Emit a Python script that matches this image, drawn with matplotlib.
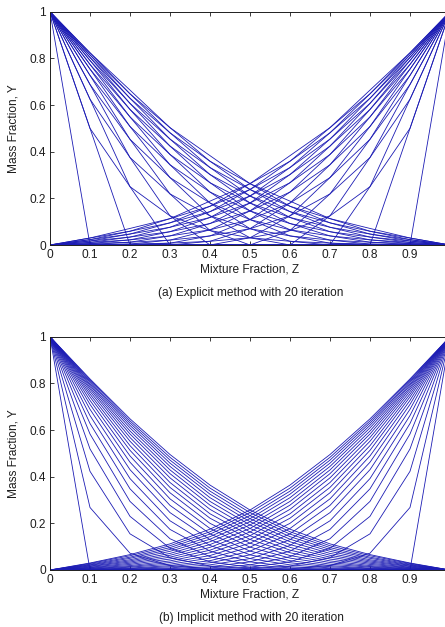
import matplotlib
matplotlib.use("Agg")
import matplotlib.pyplot as plt

# Mixture fraction grid
z = [0.0, 0.1, 0.2, 0.3, 0.4, 0.5, 0.6, 0.7, 0.8, 0.9, 1.0]

# Explicit method: fuel mass fraction profile for each iteration (0 = initial)
explicit_fuel = [
    [1, 0.000, 0.000, 0.000, 0.000, 0.000, 0.000, 0.000, 0.000, 0.000, 0],
    [1, 0.500, 0.000, 0.000, 0.000, 0.000, 0.000, 0.000, 0.000, 0.000, 0],
    [1, 0.500, 0.250, 0.000, 0.000, 0.000, 0.000, 0.000, 0.000, 0.000, 0],
    [1, 0.625, 0.250, 0.125, 0.000, 0.000, 0.000, 0.000, 0.000, 0.000, 0],
    [1, 0.625, 0.375, 0.125, 0.062, 0.000, 0.000, 0.000, 0.000, 0.000, 0],
    [1, 0.688, 0.375, 0.219, 0.062, 0.031, 0.000, 0.000, 0.000, 0.000, 0],
    [1, 0.688, 0.453, 0.219, 0.125, 0.031, 0.016, 0.000, 0.000, 0.000, 0],
    [1, 0.727, 0.453, 0.289, 0.125, 0.070, 0.016, 0.008, 0.000, 0.000, 0],
    [1, 0.727, 0.508, 0.289, 0.180, 0.070, 0.039, 0.008, 0.004, 0.000, 0],
    [1, 0.754, 0.508, 0.344, 0.180, 0.109, 0.039, 0.021, 0.004, 0.002, 0],
    [1, 0.754, 0.549, 0.344, 0.227, 0.109, 0.065, 0.021, 0.012, 0.002, 0],
    [1, 0.774, 0.549, 0.388, 0.227, 0.146, 0.065, 0.039, 0.012, 0.006, 0],
    [1, 0.774, 0.581, 0.388, 0.267, 0.146, 0.092, 0.039, 0.022, 0.006, 0],
    [1, 0.791, 0.581, 0.424, 0.267, 0.180, 0.092, 0.057, 0.022, 0.011, 0],
    [1, 0.791, 0.607, 0.424, 0.302, 0.180, 0.118, 0.057, 0.034, 0.011, 0],
    [1, 0.804, 0.607, 0.454, 0.302, 0.210, 0.118, 0.076, 0.034, 0.017, 0],
    [1, 0.804, 0.629, 0.454, 0.332, 0.210, 0.143, 0.076, 0.047, 0.017, 0],
    [1, 0.815, 0.629, 0.481, 0.332, 0.238, 0.143, 0.095, 0.047, 0.023, 0],
    [1, 0.815, 0.648, 0.481, 0.359, 0.238, 0.166, 0.095, 0.059, 0.023, 0],
    [1, 0.824, 0.648, 0.503, 0.359, 0.263, 0.166, 0.113, 0.059, 0.030, 0],
    [1, 0.824, 0.664, 0.503, 0.383, 0.263, 0.188, 0.113, 0.071, 0.030, 0],
]

# Implicit method: fuel mass fraction profile for each iteration (0 = initial)
implicit_fuel = [
    [1, 0.000, 0.000, 0.000, 0.000, 0.000, 0.000, 0.000, 0.000, 0.000, 0],
    [1, 0.268, 0.072, 0.019, 0.005, 0.001, 0.000, 0.000, 0.000, 0.000, 0],
    [1, 0.423, 0.155, 0.053, 0.017, 0.005, 0.002, 0.000, 0.000, 0.000, 0],
    [1, 0.519, 0.230, 0.093, 0.035, 0.012, 0.004, 0.001, 0.000, 0.000, 0],
    [1, 0.583, 0.294, 0.134, 0.057, 0.022, 0.009, 0.003, 0.001, 0.000, 0],
    [1, 0.628, 0.348, 0.174, 0.081, 0.035, 0.014, 0.006, 0.002, 0.001, 0],
    [1, 0.662, 0.392, 0.211, 0.105, 0.049, 0.022, 0.009, 0.004, 0.001, 0],
    [1, 0.689, 0.430, 0.246, 0.130, 0.065, 0.031, 0.014, 0.006, 0.002, 0],
    [1, 0.710, 0.462, 0.277, 0.155, 0.081, 0.040, 0.019, 0.008, 0.003, 0],
    [1, 0.727, 0.489, 0.305, 0.178, 0.098, 0.051, 0.025, 0.012, 0.004, 0],
    [1, 0.742, 0.513, 0.331, 0.200, 0.115, 0.062, 0.032, 0.015, 0.006, 0],
    [1, 0.754, 0.533, 0.354, 0.222, 0.131, 0.074, 0.039, 0.019, 0.008, 0],
    [1, 0.765, 0.552, 0.375, 0.241, 0.147, 0.085, 0.047, 0.024, 0.010, 0],
    [1, 0.775, 0.568, 0.395, 0.260, 0.163, 0.097, 0.055, 0.029, 0.012, 0],
    [1, 0.783, 0.583, 0.413, 0.278, 0.178, 0.109, 0.063, 0.034, 0.015, 0],
    [1, 0.791, 0.596, 0.429, 0.294, 0.193, 0.121, 0.071, 0.039, 0.017, 0],
    [1, 0.797, 0.609, 0.444, 0.310, 0.207, 0.132, 0.080, 0.044, 0.020, 0],
    [1, 0.804, 0.620, 0.458, 0.325, 0.220, 0.143, 0.088, 0.050, 0.022, 0],
    [1, 0.809, 0.630, 0.471, 0.338, 0.233, 0.154, 0.096, 0.055, 0.025, 0],
    [1, 0.815, 0.639, 0.483, 0.351, 0.246, 0.164, 0.104, 0.061, 0.028, 0],
    [1, 0.819, 0.648, 0.495, 0.364, 0.257, 0.175, 0.112, 0.066, 0.030, 0],
]

# The oxidizer profiles are the fuel profiles mirrored across Z = 0.5
explicit_oxid = [row[::-1] for row in explicit_fuel]
implicit_oxid = [row[::-1] for row in implicit_fuel]

x_ticks = [0, 0.1, 0.2, 0.3, 0.4, 0.5, 0.6, 0.7, 0.8, 0.9, 1]
# the label of the last tick (1) lies beyond the cropped right edge of the image
x_tick_labels = ["0", "0.1", "0.2", "0.3", "0.4", "0.5", "0.6", "0.7", "0.8", "0.9", ""]
y_ticks = [0, 0.2, 0.4, 0.6, 0.8, 1]
y_tick_labels = ["0", "0.2", "0.4", "0.6", "0.8", "1"]
captions = ["(a) Explicit method with 20 iteration", "(b) Implicit method with 20 iteration"]

plt.rcParams["font.family"] = ["Liberation Sans Narrow", "Liberation Sans", "DejaVu Sans"]

W, H = 445, 627
fig = plt.figure(figsize=(W / 100, H / 100), dpi=100)

line_color = "#1c1cb4"
text_color = "#1e1e1e"
fs = 8.6
panels = [(explicit_fuel, explicit_oxid, 245), (implicit_fuel, implicit_oxid, 570)]
caption_y = [293, 618]

for k, (fuel, oxid, bottom_px) in enumerate(panels):
    ax = fig.add_axes([50 / W, (H - bottom_px) / H, 400 / W, 233.3 / H])
    for row in fuel:
        ax.plot(z, row, color=line_color, lw=0.6)
    for row in oxid:
        ax.plot(z, row, color=line_color, lw=0.6)
    ax.set_xlim(0, 1)
    ax.set_ylim(0, 1)
    ax.set_xticks(x_ticks)
    ax.set_xticklabels(x_tick_labels)
    ax.set_yticks(y_ticks)
    ax.set_yticklabels(y_tick_labels)
    ax.tick_params(direction="in", length=3, width=0.6, labelsize=fs, pad=3,
                   top=True, right=True, colors=text_color)
    for s in ax.spines.values():
        s.set_linewidth(0.7)
        s.set_color(text_color)
    ax.set_xlabel("Mixture Fraction, Z", fontsize=fs, labelpad=1.5, color=text_color)
    ax.set_ylabel("Mass Fraction, Y", fontsize=fs, color=text_color)
    ax.yaxis.set_label_coords(-0.075, 0.5)
    fig.text(251 / W, 1 - caption_y[k] / H, captions[k], ha="center", va="center",
             fontsize=fs, color=text_color)

fig.savefig("out.png", dpi=100)
